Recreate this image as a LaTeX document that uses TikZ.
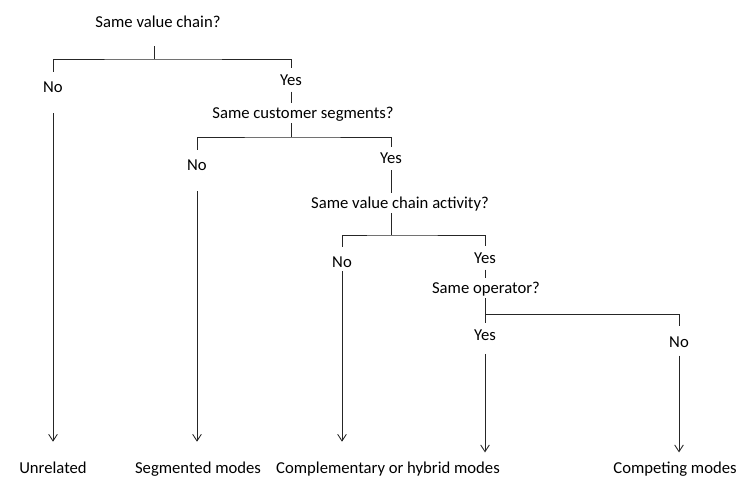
\documentclass[tikz,border=0pt]{standalone}
\usepackage{fontspec}
\setmainfont{Carlito}
\usetikzlibrary{
  arrows.meta,
}
\tikzstyle{question} = [
inner xsep=0pt,
inner ysep=3.5pt,
text height=8pt,
text depth=0pt
]
\tikzstyle{yes} = [
inner xsep=0pt,
inner ysep=4.5pt,
text height=8pt,
text depth=0pt
]
\tikzstyle{no} = [
inner xsep=0pt,
inner ysep=7.5pt,
text height=8pt,
text depth=0pt
]
\tikzstyle{outcome} = [
inner xsep=0pt,
inner ysep=7.5pt,
text height=8pt,
text depth=0pt
]
\tikzstyle{line} = [draw, line width=0.65pt, black!85]
\tikzstyle{arrow} = [line, -{Straight Barb[length=5pt,width=6.5pt]}]

\begin{document}
\begin{tikzpicture}[x=0.75pt, y=-0.75pt, font=\fontsize{12.5}{15}\selectfont]
  \useasboundingbox (0,0) rectangle (737,481);
  % Place nodes
  \node [question] (valuechain) at (158,22) {Same value chain?};
  \node [no] (no1) at (53,87.5) {No};
  \node [yes] (yes1) at (291,80) {Yes};

  \node [question] (segments) at (303,113) {Same customer segments?};
  \node [no] (no2) at (197,165.5) {No};
  \node [yes] (yes2) at (391,158.5) {Yes};

  \node [question] (activity) at (400,203) {Same value chain activity?};
  \node [no] (no3) at (342,262.5) {No};
  \node [yes] (yes3) at (485,258) {Yes};

  \node [question] (operator) at (486,288) {Same operator?};
  \node [yes] (yes4) at (485,335) {Yes};
  \node [no] (no4) at (679,342) {No};

  \node [outcome] (unrelated) at (53,468) {Unrelated};
  \node [outcome] (segmented) at (198,468) {Segmented modes};
  \node [outcome] (hybrid) at (388,468) {Complementary or hybrid modes};
  \node [outcome] (competing) at (675,468) {Competing modes};

  % Forks
  \coordinate (fork1) at (154,59);
  \coordinate (fork2) at (291,137);
  \coordinate (fork3) at (391,235);
  \coordinate (fork4) at (485,314);

  % Draw edges
  \path [line, shorten <=10.5pt] (fork1 |- valuechain.south) -- (fork1);
  \path [line] (no1.north) |- (fork1) -| (yes1.north);
  \path [line] (yes1.south) -- (yes1.south |- segments.north);

  \path [line] (segments.south -| fork2) -- (fork2);
  \path [line] (no2.north) |- (fork2) -| (yes2.north);
  \path [line] (yes2.south) -- (yes2.south |- activity.north);

  \path [line] (activity.south -| fork3) -- (fork3);
  \path [line] (no3.north) |- (fork3) -| (yes3.north);
  \path [line] (yes3.south) -- (yes3.south |- operator.north);

  \path [line] (fork4 |- operator.south) -- (fork4) -- (yes4.north);
  \path [line] (fork4) -| (no4.north);

  \path [arrow, shorten <=7.5pt, shorten >=8pt] (no1.south) -- (no1.south |- unrelated.north);
  \path [arrow, shorten <=7.5pt, shorten >=8pt] (no2.south) -- (no2.south |- segmented.north);
  \path [arrow, shorten <=-5pt, shorten >=8pt] (no3.south) -- (no3.south |- hybrid.north);
  \path [arrow, shorten <=5.5pt] (yes4.south) -- (yes4.south |- hybrid.north);
  \path [arrow, shorten <=-1.5pt] (no4.south) -- (no4.south |- competing.north);

\end{tikzpicture}
\end{document}
